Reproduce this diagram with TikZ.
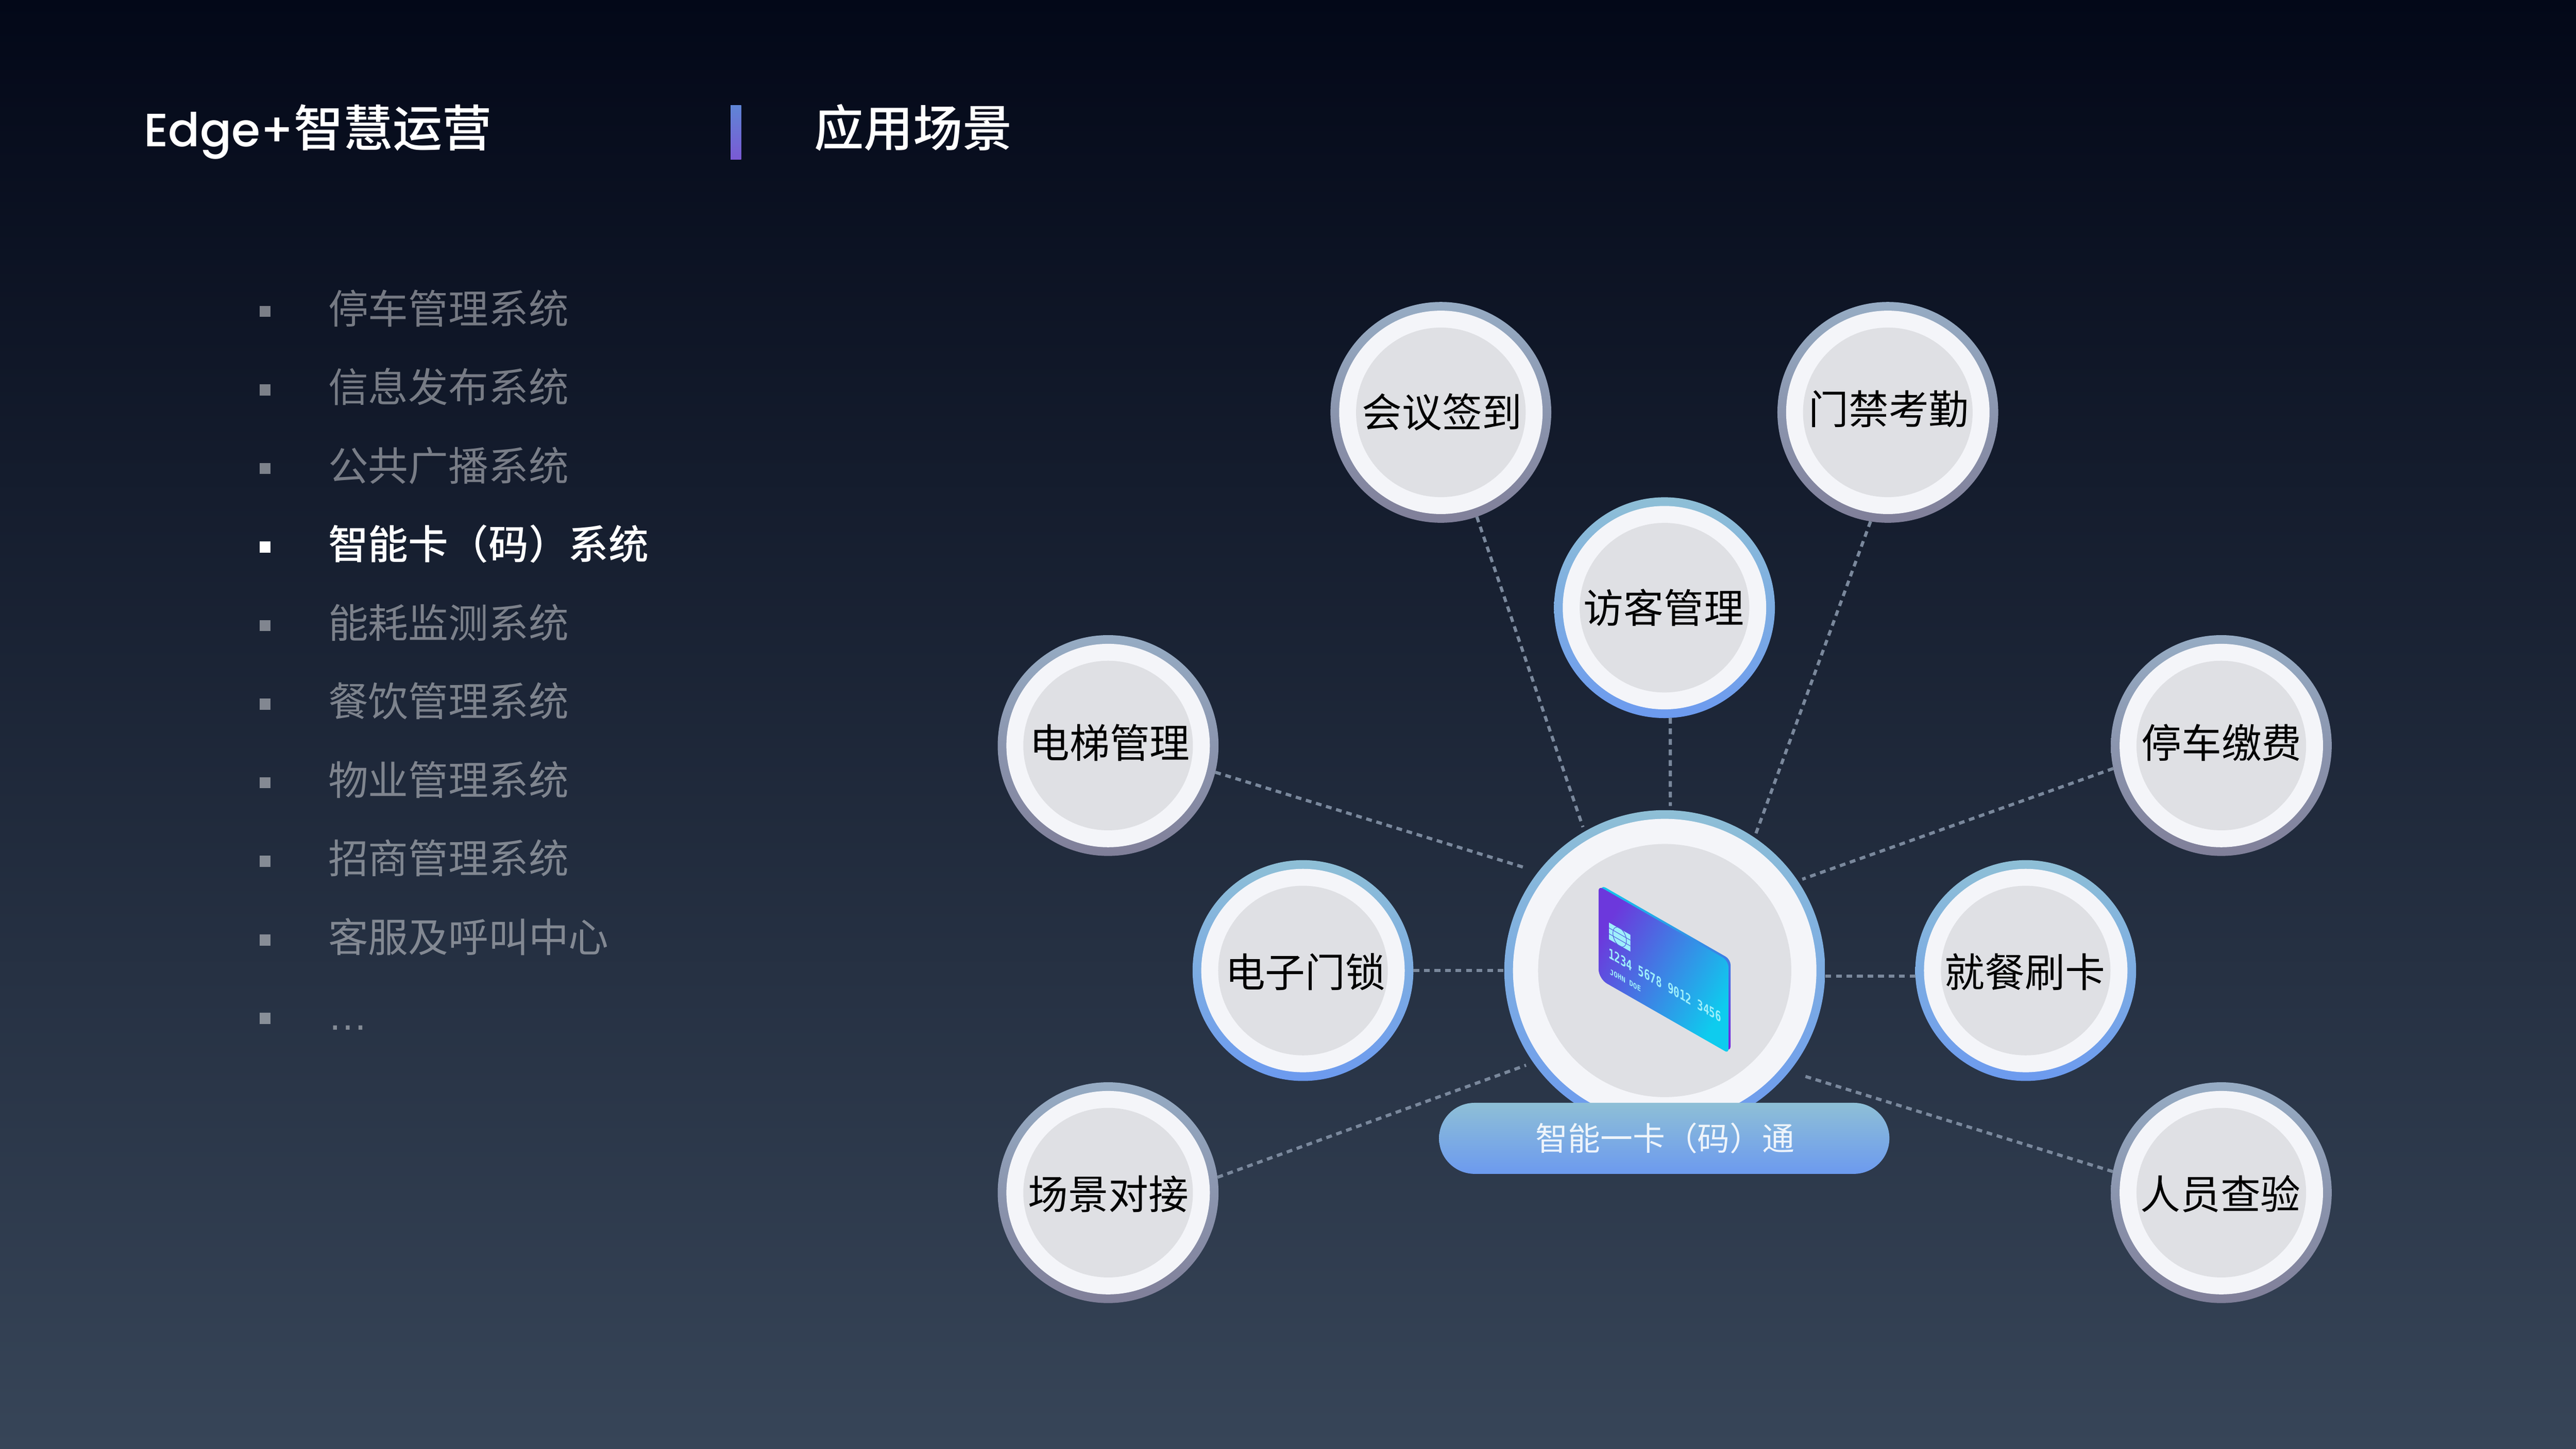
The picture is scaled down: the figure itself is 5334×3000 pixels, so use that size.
\documentclass[tikz,border=0pt]{standalone}
\usepackage{fontspec}
\setmainfont{Liberation Sans}
\newfontfamily\cjk{Noto Sans CJK SC}
\newfontfamily\cjkb{Noto Sans CJK SC Medium}
\newfontfamily\titlelat{Poppins Medium}
\newfontfamily\cardmono{DejaVu Sans Mono Bold}
\definecolor{bgtop}{HTML}{030818}
\definecolor{bgbot}{HTML}{374558}
\definecolor{blueT}{HTML}{8EBFD6}
\definecolor{blueB}{HTML}{6C9AEF}
\definecolor{grayT}{HTML}{96ACC4}
\definecolor{grayB}{HTML}{807F99}
\definecolor{discW}{HTML}{F4F5F9}
\definecolor{coreG}{HTML}{DFE0E4}
\definecolor{dashC}{HTML}{7A889C}
\definecolor{chipC}{HTML}{9EEFFB}
\definecolor{chipL}{HTML}{5560DF}
\definecolor{barT}{HTML}{5F85D6}
\definecolor{barB}{HTML}{7A5AD4}
\definecolor{lipT}{HTML}{10C8EC}
\definecolor{lipM}{HTML}{4C7CE0}
\definecolor{lipB}{HTML}{7A20DC}
\definecolor{faceL}{HTML}{6C38DC}
\definecolor{faceR}{HTML}{0ECCEE}
\tikzset{
  ringblue/.style={circle,inner sep=0pt,outer sep=0pt,minimum size=4.57cm,top color=blueT,bottom color=blueB,draw=none},
  ringgray/.style={circle,inner sep=0pt,outer sep=0pt,minimum size=4.57cm,top color=grayT,bottom color=grayB,draw=none},
  discw/.style={circle,inner sep=0pt,outer sep=0pt,minimum size=4.21cm,fill=discW},
  disccore/.style={circle,inner sep=0pt,outer sep=0pt,minimum size=3.51cm,fill=coreG},
  labeltxt/.style={anchor=base,inner sep=0pt,text=black,font=\cjk\fontsize{23.6}{28}\selectfont},
  listtxt/.style={anchor=base west,inner sep=0pt,text=white,text opacity=0.43,font=\cjk\fontsize{23.6}{28}\selectfont},
  listact/.style={anchor=base west,inner sep=0pt,text=white,font=\cjkb\fontsize{23.6}{28}\selectfont},
  bulletbox/.style={rectangle,inner sep=0pt,minimum width=0.23cm,minimum height=0.23cm,fill=white,fill opacity=0.45},
  titletxt/.style={anchor=base west,inner sep=0pt,text=white,font=\cjkb\fontsize{29.2}{34}\selectfont},
  conn/.style={draw=dashC,line width=0.065cm,dash pattern=on 0.12cm off 0.098cm},
}
\newcommand{\scnode}[7]{%
  \node[#4] (#1) at (#2,#3) {};
  \node[discw] (#1-w) at (#1) {};
  \node[disccore] (#1-c) at (#1) {};
  \node[labeltxt] (#1-t) at (#6,#7) {#5};
}
\newcommand{\listitem}[2]{%
  \node[bulletbox] (b#1) at (549,{645+162.7*#1}) {};
  \node[listtxt] (l#1) at (679,{670+162.7*#1}) {#2};
}
\begin{document}
\begin{tikzpicture}[x=0.01cm,y=-0.01cm]
\useasboundingbox (0,0) rectangle (5334,3000);
\shade[top color=bgtop,bottom color=bgbot] (0,0) rectangle (5334,3000);

% titles
\node[titletxt] (title1) at (297,303) {{\titlelat\fontsize{27.5}{34}\selectfont Edge+}智慧运营};
\node[titletxt] (title2) at (1685,303) {应用场景};
\node[rectangle,inner sep=0pt,minimum width=0.22cm,minimum height=1.12cm,top color=barT,bottom color=barB,anchor=north west] (titlebar) at (1512,217) {};

% list
\listitem{0}{停车管理系统}
\listitem{1}{信息发布系统}
\listitem{2}{公共广播系统}
\node[bulletbox,fill opacity=1] (b3) at (549,{645+162.7*3}) {};
\node[listact] (l3) at (679,{670+162.7*3}) {智能卡（码）系统};
\listitem{4}{能耗监测系统}
\listitem{5}{餐饮管理系统}
\listitem{6}{物业管理系统}
\listitem{7}{招商管理系统}
\listitem{8}{客服及呼叫中心}
\node[bulletbox] (b9) at (549,{645+162.7*9}) {};
\node[anchor=base west,inner sep=0pt,text=white,text opacity=0.43,font=\fontsize{23.6}{28}\selectfont] (l9) at (678,2133) {…};

% hub
\node[circle,inner sep=0pt,outer sep=0pt,minimum size=6.64cm,top color=blueT,bottom color=blueB,draw=none] (hub) at (3447,2010) {};
\node[circle,inner sep=0pt,minimum size=6.28cm,fill=discW] (hub-w) at (hub) {};
\node[circle,inner sep=0pt,minimum size=5.24cm,fill=coreG] (hub-c) at (hub) {};

% satellites
\scnode{hy}{2983.5}{854}{ringgray}{会议签到}{2986}{885}
\scnode{door}{3909}{854}{ringgray}{门禁考勤}{3911}{878}
\scnode{visit}{3446.5}{1258.5}{ringblue}{访客管理}{3445}{1290}
\scnode{lift}{2294.5}{1544}{ringgray}{电梯管理}{2298}{1570}
\scnode{park}{4599.5}{1544}{ringgray}{停车缴费}{4600}{1570}
\scnode{lock}{2698}{2010}{ringblue}{电子门锁}{2703}{2044}
\scnode{meal}{4194.5}{2010}{ringblue}{就餐刷卡}{4193}{2044}
\scnode{scene}{2294.5}{2470}{ringgray}{场景对接}{2295}{2504}
\scnode{staff}{4599.5}{2470}{ringgray}{人员查验}{4598}{2504}

% connectors
\draw[conn,shorten >=0.10cm] (hy.-71) -- (hub.120.5);
\draw[conn] (door.-99.8) -- (hub.56.4);
\draw[conn,shorten >=0.09cm] (visit.-87.1) -- (hub.88.2);
\draw[conn,shorten >=0.26cm] (lift.-14.6) -- (hub.142.4);
\draw[conn] (lock.0) -- (hub.180);
\draw[conn] (meal.-177.5) -- (hub.-1.7 |- meal.-177.5);
\draw[conn,shorten >=0.10cm] (park.-168) -- (hub.34);
\draw[conn,shorten >=0.16cm] (scene.8.5) -- (hub.215.7);
\draw[conn,shorten >=0.30cm] (staff.169.2) -- (hub.-39.4);

% pill
\node[rectangle,rounded corners=0.735cm,inner sep=0pt,minimum width=9.32cm,minimum height=1.47cm,top color=blueT,bottom color=blueB,draw=none] (pill) at (3446,2357.5) {};
\node[anchor=base,inner sep=0pt,text=white,text opacity=0.88,font=\cjk\fontsize{19.06}{23}\selectfont] (pill-t) at (3448,2382.5) {智能一卡（码）通};

% card
\path[rounded corners=0.12cm,top color=lipT,middle color=lipM,bottom color=lipB]
  (3314.5,1832.5) -- (3583.5,1987) -- (3583.5,2178.5) -- (3314.5,2024.5) -- cycle;
\path[rounded corners=0.14cm,left color=faceL,right color=faceR,shading angle=60]
  (3310,1835) -- (3579,1989.6) [rounded corners=0.08cm] -- (3579,2181) [rounded corners=0.2cm] -- (3310,2027) [rounded corners=0.1cm] -- cycle;
\begin{scope}[cm={1,-0.575,0,1,(3331.7,1910.7)}]
  \fill[chipC] (0,0) rectangle (44.3,34.5);
  \draw[chipL,line width=0.012cm] (0,11) -- (44.3,11) (0,23) -- (44.3,23);
  \draw[chipL,line width=0.012cm] (22,17.2) ellipse [x radius=14,y radius=19];
\end{scope}
\begin{scope}[cm={1,-0.575,0,1,(3330,1983)}]
  \node[transform shape,anchor=base west,inner sep=0pt,yscale=1.4,text=chipC,font=\cardmono\fontsize{5.8}{7}\selectfont] (cardnum) at (0,0) {1234 5678 9012 3456};
\end{scope}
\begin{scope}[cm={1,-0.575,0,1,(3332.7,2017)}]
  \node[transform shape,anchor=base west,inner sep=0pt,yscale=1.15,text=chipC,font=\cardmono\fontsize{3.8}{5}\selectfont] (cardname) at (0,0) {JOHN DOE};
\end{scope}
\end{tikzpicture}
\end{document}
